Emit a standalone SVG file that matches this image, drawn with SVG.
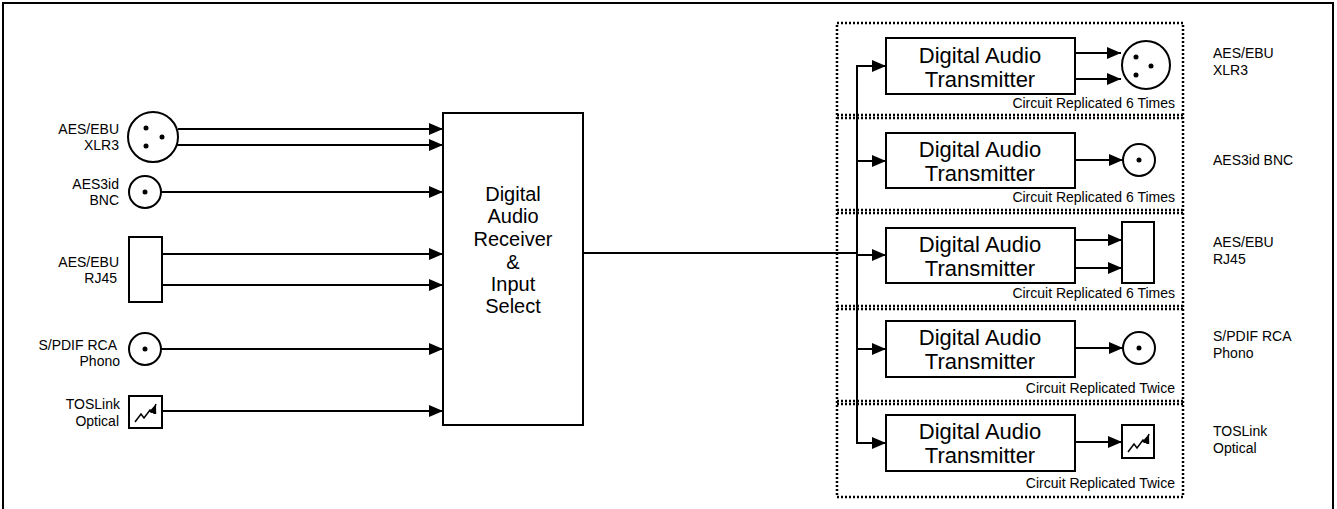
<svg xmlns="http://www.w3.org/2000/svg" width="1337" height="509" viewBox="0 0 1337 509">
<defs>
<marker id="ah" markerWidth="10" markerHeight="8" refX="10" refY="4" orient="auto" markerUnits="userSpaceOnUse"><path d="M0,0 L10,4 L0,8 Z" fill="#000"/></marker>
<marker id="ah2" markerWidth="14" markerHeight="12" refX="14" refY="6" orient="auto" markerUnits="userSpaceOnUse"><path d="M0,0 L14,6 L0,12 Z" fill="#000"/></marker>
</defs>
<style>
.b{fill:#fff;stroke:#000;stroke-width:2}
.l{fill:none;stroke:#000;stroke-width:2}
.d{fill:none;stroke:#000;stroke-width:2.5;stroke-dasharray:2 2}
.t{font-family:"Liberation Sans",Arial,sans-serif;fill:#000}
.s{font-size:14px}
.m{font-size:20px;text-anchor:middle}
.x{font-size:22px;text-anchor:middle}
.c{font-size:14px;text-anchor:end}
.r{text-anchor:end}
</style>
<rect x="0" y="0" width="1337" height="509" fill="#fff"/>
<rect x="3" y="3" width="1330" height="512" fill="none" stroke="#000" stroke-width="2"/>
<g id="connectors">
<line class="l" x1="178" y1="129" x2="443" y2="129" marker-end="url(#ah2)"/>
<line class="l" x1="176" y1="145" x2="443" y2="145" marker-end="url(#ah2)"/>
<line class="l" x1="161" y1="192" x2="443" y2="192" marker-end="url(#ah2)"/>
<line class="l" x1="162" y1="254" x2="443" y2="254" marker-end="url(#ah2)"/>
<line class="l" x1="162" y1="285" x2="443" y2="285" marker-end="url(#ah2)"/>
<line class="l" x1="161" y1="349" x2="443" y2="349" marker-end="url(#ah2)"/>
<line class="l" x1="162" y1="411" x2="443" y2="411" marker-end="url(#ah2)"/>
<line class="l" x1="583" y1="253" x2="857" y2="253"/>
<polyline class="l" points="886,66 857,66 857,443 886,443" marker-end="url(#ah2)"/>
<line class="l" x1="857" y1="66" x2="886" y2="66" marker-end="url(#ah2)"/>
<line class="l" x1="857" y1="161" x2="886" y2="161" marker-end="url(#ah2)"/>
<line class="l" x1="857" y1="255" x2="886" y2="255" marker-end="url(#ah2)"/>
<line class="l" x1="857" y1="349" x2="886" y2="349" marker-end="url(#ah2)"/>
<line class="l" x1="1075" y1="53" x2="1121" y2="53" marker-end="url(#ah2)"/>
<line class="l" x1="1075" y1="79" x2="1121" y2="79" marker-end="url(#ah2)"/>
<line class="l" x1="1075" y1="160" x2="1123" y2="160" marker-end="url(#ah2)"/>
<line class="l" x1="1075" y1="240" x2="1122" y2="240" marker-end="url(#ah2)"/>
<line class="l" x1="1075" y1="268" x2="1122" y2="268" marker-end="url(#ah2)"/>
<line class="l" x1="1075" y1="348" x2="1123" y2="348" marker-end="url(#ah2)"/>
<line class="l" x1="1075" y1="442" x2="1122" y2="442" marker-end="url(#ah2)"/>
</g>
<g id="in-xlr"><circle class="b" cx="153" cy="137" r="25"/><circle cx="146" cy="128" r="2.5"/><circle cx="146" cy="146" r="2.5"/><circle cx="162" cy="137" r="2.5"/>
<text class="t s r" x="119" y="134">AES/EBU</text><text class="t s r" x="119" y="150">XLR3</text></g>
<g id="in-bnc"><circle class="b" cx="145" cy="192" r="16"/><circle cx="145" cy="192" r="2.5"/>
<text class="t s r" x="119" y="189">AES3id</text><text class="t s r" x="119" y="205">BNC</text></g>
<g id="in-rj45"><rect class="b" x="129" y="237" width="33" height="65"/>
<text class="t s r" x="119" y="168" transform="translate(0,99)">AES/EBU</text><text class="t s r" x="117" y="283">RJ45</text></g>
<g id="in-rca"><circle class="b" cx="145" cy="349" r="16"/><circle cx="145" cy="349" r="2.5"/>
<text class="t s r" x="117" y="350">S/PDIF RCA</text><text class="t s r" x="120" y="366">Phono</text></g>
<g id="in-tos"><rect class="b" x="129" y="396" width="33" height="32"/><polyline points="135,422 141,414 144,418 150,410 153,412 156,404" fill="none" stroke="#000" stroke-width="1.5" marker-end="url(#ah)"/>
<text class="t s r" x="120" y="409">TOSLink</text><text class="t s r" x="119" y="426">Optical</text></g>
<g id="receiver"><rect class="b" x="443" y="113" width="140" height="312"/>
<text class="t m" x="513" y="201">Digital</text><text class="t m" x="513" y="223">Audio</text><text class="t m" x="513" y="246">Receiver</text><text class="t m" x="513" y="269">&amp;</text><text class="t m" x="513" y="291">Input</text><text class="t m" x="513" y="313">Select</text></g>
<g id="replicas">
<rect class="d" x="837" y="23" width="346" height="474"/>
<line class="d" x1="837" y1="115" x2="1183" y2="115"/><line class="d" x1="837" y1="118" x2="1183" y2="118"/>
<line class="d" x1="837" y1="210" x2="1183" y2="210"/><line class="d" x1="837" y1="213" x2="1183" y2="213"/>
<line class="d" x1="837" y1="306" x2="1183" y2="306"/><line class="d" x1="837" y1="309" x2="1183" y2="309"/>
<line class="d" x1="837" y1="401" x2="1183" y2="401"/><line class="d" x1="837" y1="404" x2="1183" y2="404"/>
<text class="t c" x="1175" y="108">Circuit Replicated 6 Times</text>
<text class="t c" x="1175" y="202">Circuit Replicated 6 Times</text>
<text class="t c" x="1175" y="298">Circuit Replicated 6 Times</text>
<text class="t c" x="1175" y="393">Circuit Replicated Twice</text>
<text class="t c" x="1175" y="488">Circuit Replicated Twice</text>
</g>
<g id="tx1"><rect class="b" x="886" y="38" width="189" height="56"/><text class="t x" x="980" y="63">Digital Audio</text><text class="t x" x="980" y="87">Transmitter</text></g>
<g id="tx2"><rect class="b" x="886" y="133" width="189" height="55"/><text class="t x" x="980" y="157">Digital Audio</text><text class="t x" x="980" y="181">Transmitter</text></g>
<g id="tx3"><rect class="b" x="886" y="228" width="189" height="55"/><text class="t x" x="980" y="252">Digital Audio</text><text class="t x" x="980" y="276">Transmitter</text></g>
<g id="tx4"><rect class="b" x="886" y="321" width="189" height="56"/><text class="t x" x="980" y="345">Digital Audio</text><text class="t x" x="980" y="369">Transmitter</text></g>
<g id="tx5"><rect class="b" x="886" y="415" width="189" height="56"/><text class="t x" x="980" y="439">Digital Audio</text><text class="t x" x="980" y="463">Transmitter</text></g>
<g id="out-xlr"><circle class="b" cx="1146" cy="65" r="24"/><circle cx="1136" cy="57" r="2.5"/><circle cx="1136" cy="75" r="2.5"/><circle cx="1151" cy="66" r="2.5"/>
<text class="t s" x="1213" y="58">AES/EBU</text><text class="t s" x="1213" y="75">XLR3</text></g>
<g id="out-bnc"><circle class="b" cx="1139" cy="160" r="16"/><circle cx="1139" cy="160" r="2.5"/><text class="t s" x="1213" y="165">AES3id BNC</text></g>
<g id="out-rj45"><rect class="b" x="1122" y="222" width="32" height="61"/><text class="t s" x="1213" y="247">AES/EBU</text><text class="t s" x="1213" y="264">RJ45</text></g>
<g id="out-rca"><circle class="b" cx="1139" cy="348" r="16"/><circle cx="1139" cy="348" r="2.5"/><text class="t s" x="1213" y="341">S/PDIF RCA</text><text class="t s" x="1213" y="358">Phono</text></g>
<g id="out-tos"><rect class="b" x="1122" y="425" width="32" height="33"/><polyline points="1128,452 1134,444 1137,448 1143,440 1146,442 1149,434" fill="none" stroke="#000" stroke-width="1.5" marker-end="url(#ah)"/>
<text class="t s" x="1213" y="436">TOSLink</text><text class="t s" x="1213" y="453">Optical</text></g>
</svg>
